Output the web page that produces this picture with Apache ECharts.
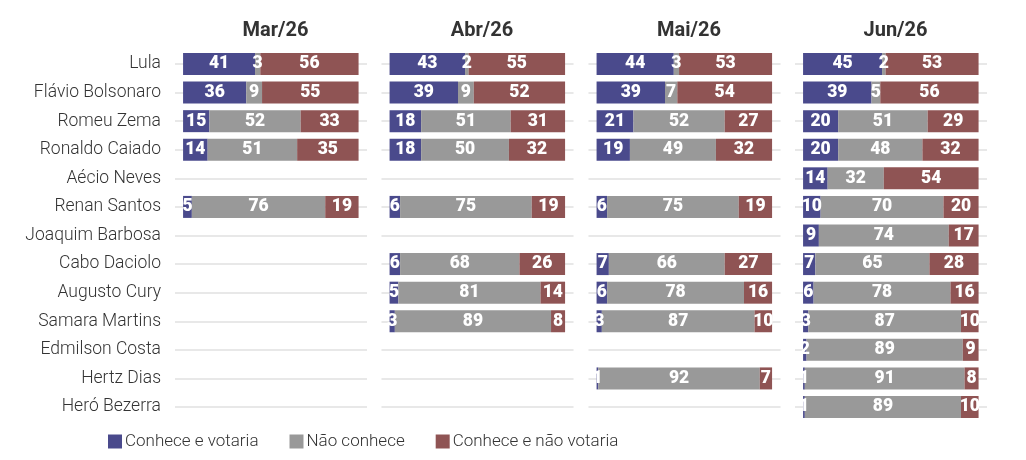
<!DOCTYPE html>
<html>
<head>
<meta charset="utf-8">
<script src="https://cdn.jsdelivr.net/npm/echarts@6/dist/echarts.min.js"></script>
<style>
  html, body { margin: 0; padding: 0; background: #fff; }
  #chart { width: 1026px; height: 460px; }
</style>
</head>
<body>
<div id="chart"></div>
<script>
// categorias (candidatos)
var candidatos = ['Lula', 'Flávio Bolsonaro', 'Romeu Zema', 'Ronaldo Caiado', 'Aécio Neves',
  'Renan Santos', 'Joaquim Barbosa', 'Cabo Daciolo', 'Augusto Cury', 'Samara Martins',
  'Edmilson Costa', 'Hertz Dias', 'Heró Bezerra']
var meses = ['Mar/26', 'Abr/26', 'Mai/26', 'Jun/26']
var seriesNomes = ['Conhece e votaria', 'Não conhece', 'Conhece e não votaria']

// Mar/26
var marVotaria = [41, 36, 15, 14, null, 5, null, null, null, null, null, null, null]
var marNaoConhece = [3, 9, 52, 51, null, 76, null, null, null, null, null, null, null]
var marNaoVotaria = [56, 55, 33, 35, null, 19, null, null, null, null, null, null, null]
// Abr/26
var abrVotaria = [43, 39, 18, 18, null, 6, null, 6, 5, 3, null, null, null]
var abrNaoConhece = [2, 9, 51, 50, null, 75, null, 68, 81, 89, null, null, null]
var abrNaoVotaria = [55, 52, 31, 32, null, 19, null, 26, 14, 8, null, null, null]
// Mai/26
var maiVotaria = [44, 39, 21, 19, null, 6, null, 7, 6, 3, null, 1, null]
var maiNaoConhece = [3, 7, 52, 49, null, 75, null, 66, 78, 87, null, 92, null]
var maiNaoVotaria = [53, 54, 27, 32, null, 19, null, 27, 16, 10, null, 7, null]
// Jun/26
var junVotaria = [45, 39, 20, 20, 14, 10, 9, 7, 6, 3, 2, 1, 1]
var junNaoConhece = [2, 5, 51, 48, 32, 70, 74, 65, 78, 87, 89, 91, 89]
var junNaoVotaria = [53, 56, 29, 32, 54, 20, 17, 28, 16, 10, 9, 8, 10]

var dadosMes = [
  [marVotaria, marNaoConhece, marNaoVotaria],
  [abrVotaria, abrNaoConhece, abrNaoVotaria],
  [maiVotaria, maiNaoConhece, maiNaoVotaria],
  [junVotaria, junNaoConhece, junNaoVotaria],
]
var cores = ['#4a4a8c', '#999999', '#8f5454']

// grade de cada mês (linha cinza começa ~8px antes da barra)
var gridLefts = [175, 381.5, 588.5, 795]
var gridWidth = 192
var gridTop = 49.7
var gridHeight = 371.6

var chart = echarts.init(document.getElementById('chart'))

var grids = []
var xAxes = []
var yAxes = []
var titles = []
var series = []

meses.forEach(function (mes, i) {
  grids.push({ left: gridLefts[i], top: gridTop, width: gridWidth, height: gridHeight })
  titles.push({
    text: mes,
    left: gridLefts[i] + 95.5,
    top: 16,
    textAlign: 'center',
    textStyle: { fontFamily: 'Roboto', fontWeight: 'bold', fontSize: 20, color: '#333' },
  })
  xAxes.push({
    type: 'value',
    gridIndex: i,
    min: -4.6,
    max: 104.8,
    show: false,
  })
  yAxes.push({
    type: 'category',
    gridIndex: i,
    data: candidatos,
    inverse: true,
    axisLine: { show: false, onZero: false },
    splitLine: { show: false },
    axisTick: {
      show: true,
      inside: true,
      alignWithLabel: true,
      interval: 0,
      length: gridWidth,
      lineStyle: { color: '#e8e8e8', width: 2 },
    },
    axisLabel: {
      show: i === 0,
      interval: 0,
      margin: 14,
      fontFamily: 'Roboto',
      fontWeight: 300,
      fontSize: 17.5,
      color: '#333',
    },
  })
  dadosMes[i].forEach(function (valores, s) {
    series.push({
      name: seriesNomes[s],
      type: 'bar',
      stack: 'mes' + i,
      xAxisIndex: i,
      yAxisIndex: i,
      barWidth: 22,
      data: valores,
      itemStyle: { color: cores[s] },
      label: {
        show: true,
        position: 'inside',
        color: '#fff',
        fontFamily: 'Roboto',
        fontWeight: 900,
        fontSize: 17.5,
        textBorderWidth: 0,
      },
    })
  })
})

var option = {
  animation: false,
  title: titles,
  legend: {
    data: seriesNomes,
    left: 103,
    top: 428,
    icon: 'rect',
    itemWidth: 14,
    itemHeight: 14,
    itemGap: 31,
    textStyle: { fontFamily: 'Roboto', fontWeight: 300, fontSize: 17, color: '#333', padding: [0, 0, 0, -2] },
  },
  grid: grids,
  xAxis: xAxes,
  yAxis: yAxes,
  series: series,
}
chart.setOption(option)
</script>
</body>
</html>
